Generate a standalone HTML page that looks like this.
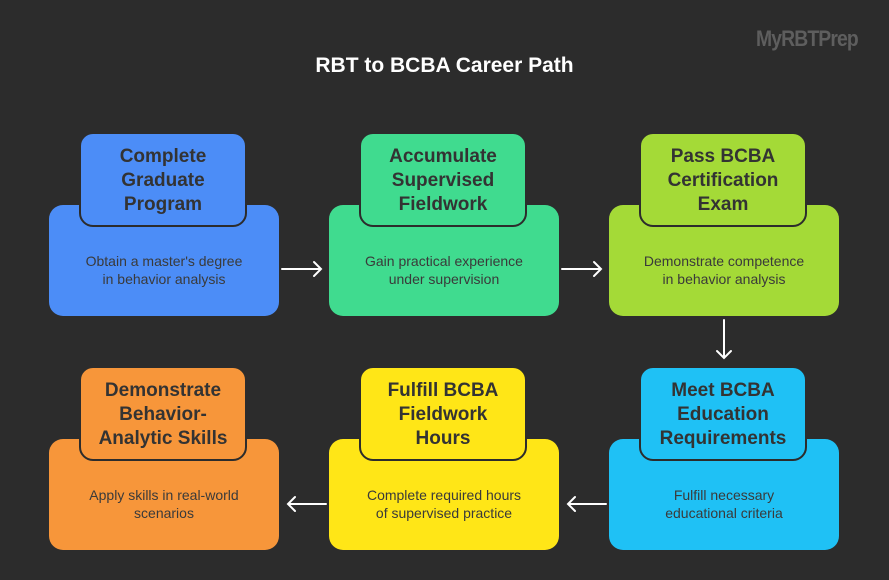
<!DOCTYPE html>
<html><head><style>
body{margin:0;width:889px;height:580px;background:#2c2c2c;position:relative;overflow:hidden;font-family:"Liberation Sans",sans-serif}
.t{position:absolute;left:0;width:889px;top:54px;text-align:center;color:#fff;font-weight:bold;font-size:21px}
.logo{position:absolute;left:756px;top:26px;color:#5e5e5e;font-weight:bold;font-size:22px;letter-spacing:-1px;transform:scaleX(0.88);transform-origin:left}
.b{position:absolute;width:230px;height:111px;border-radius:14px}
.h{position:absolute;width:164px;height:91px;border:2px solid #2c2c2c;border-radius:14px;display:flex;align-items:center;justify-content:center;text-align:center;font-weight:bold;font-size:19px;line-height:24px;color:#333;padding-top:3px;box-sizing:content-box}
.h{height:88px}
.d{position:absolute;width:230px;text-align:center;font-size:14px;line-height:18px;color:#3a3a3a}
svg{position:absolute;left:0;top:0}
</style></head><body>
<div class="t">RBT to BCBA Career Path</div>
<div class="logo">MyRBTPrep</div>

<div class="b" style="left:49px;top:205px;background:#4c8df7"></div>
<div class="h" style="left:79px;top:132px;background:#4c8df7">Complete<br>Graduate<br>Program</div>
<div class="d" style="left:49px;top:252px">Obtain a master's degree<br>in behavior analysis</div>

<div class="b" style="left:329px;top:205px;background:#40db8f"></div>
<div class="h" style="left:359px;top:132px;background:#40db8f">Accumulate<br>Supervised<br>Fieldwork</div>
<div class="d" style="left:329px;top:252px">Gain practical experience<br>under supervision</div>

<div class="b" style="left:609px;top:205px;background:#a4da37"></div>
<div class="h" style="left:639px;top:132px;background:#a4da37">Pass BCBA<br>Certification<br>Exam</div>
<div class="d" style="left:609px;top:252px">Demonstrate competence<br>in behavior analysis</div>

<div class="b" style="left:49px;top:439px;background:#f7963a"></div>
<div class="h" style="left:79px;top:366px;background:#f7963a">Demonstrate<br>Behavior-<br>Analytic Skills</div>
<div class="d" style="left:49px;top:486px">Apply skills in real-world<br>scenarios</div>

<div class="b" style="left:329px;top:439px;background:#ffe617"></div>
<div class="h" style="left:359px;top:366px;background:#ffe617">Fulfill BCBA<br>Fieldwork<br>Hours</div>
<div class="d" style="left:329px;top:486px">Complete required hours<br>of supervised practice</div>

<div class="b" style="left:609px;top:439px;background:#1fc1f5"></div>
<div class="h" style="left:639px;top:366px;background:#1fc1f5">Meet BCBA<br>Education<br>Requirements</div>
<div class="d" style="left:609px;top:486px">Fulfill necessary<br>educational criteria</div>

<svg width="889" height="580" fill="none" stroke="#fff" stroke-width="2" stroke-linecap="round">
<path d="M282 269H321M314 262L321 269L314 276"/>
<path d="M562 269H601M594 262L601 269L594 276"/>
<path d="M724 320V358M717 351L724 358L731 351"/>
<path d="M606 504H568M575 497L568 504L575 511"/>
<path d="M326 504H288M295 497L288 504L295 511"/>
</svg>
</body></html>
